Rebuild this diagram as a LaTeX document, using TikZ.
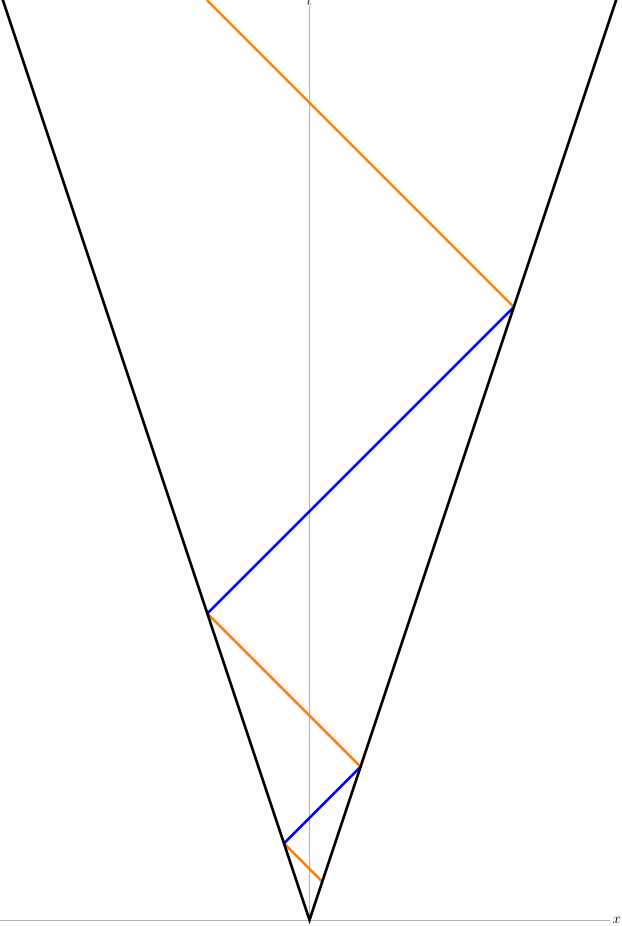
\documentclass[tikz,border=0pt]{standalone}
\begin{document}
\begin{tikzpicture}[x=1pt,y=1pt,
  axis/.style={draw=gray!60,line width=0.8pt},
  wall/.style={draw=black,line width=2.6pt},
  orng/.style={draw=orange,line width=2.4pt},
  blu/.style={draw=blue,line width=2.4pt},
  lab/.style={inner sep=0pt,font=\Large}]
\useasboundingbox (0,0) rectangle (621,926);
\begin{scope}[shift={(309.5,6)}]
\pgfmathsetmacro{\a}{12.77}
\coordinate (O) at (0,0);
\coordinate (xl) at (-309.5,0);
\coordinate (xr) at (300,0);
\coordinate (tt) at (0,914);
\coordinate (L) at (-307.5,922.5);
\coordinate (R) at (307.5,922.5);
\coordinate (P0) at ({\a},{3*\a});
\coordinate (P1) at ({-2*\a},{6*\a});
\coordinate (P2) at ({4*\a},{12*\a});
\coordinate (P3) at ({-8*\a},{24*\a});
\coordinate (P4) at ({16*\a},{48*\a});
\coordinate (P5) at ({16*\a-(920-48*\a)},920);
\draw[axis] (xl) -- (xr);
\draw[axis] (O) -- (tt);
\node[lab] (xlab) at (307,0) {$x$};
\node[lab,anchor=north] (tlab) at (0,924) {$t$};
\draw[orng] (P0) -- (P1);
\draw[blu] (P1) -- (P2);
\draw[orng] (P2) -- (P3);
\draw[blu] (P3) -- (P4);
\draw[orng] (P4) -- (P5);
\draw[wall,line join=miter] (L) -- (O) -- (R);
\end{scope}
\end{tikzpicture}
\end{document}
